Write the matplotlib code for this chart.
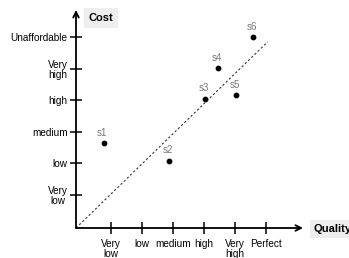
import matplotlib
matplotlib.use("Agg")
import matplotlib.pyplot as plt

plt.rcParams['font.family'] = ['Liberation Sans', 'DejaVu Sans']

names = ["s1", "s2", "s3", "s4", "s5", "s6"]
quality = [0.76, 2.88, 4.03, 4.45, 5.03, 5.58]
cost = [2.64, 2.08, 4.05, 5.02, 4.17, 6.0]
x_ticks = [1, 2, 3, 4, 5, 6]
x_labels = ["Very\nlow", "low", "medium", "high", "Very\nhigh", "Perfect"]
y_ticks = [1, 2, 3, 4, 5, 6]
y_labels = ["Very\nlow", "low", "medium", "high", "Very\nhigh", "Unaffordable"]
trend_x = [-0.13, 6.05]
trend_y = [-0.05, 5.86]

W, H = 349, 258
fig = plt.figure(figsize=(W / 100, H / 100), dpi=100)
x0, x1 = 76, 303
y0, y1 = 228, 10
ax = fig.add_axes([x0 / W, 1 - y0 / H, (x1 - x0) / W, (y0 - y1) / H])
ax.set_xlim(-0.13, 7.19)
ax.set_ylim(-0.05, 6.87)
for s in ax.spines.values():
    s.set_visible(False)
ax.patch.set_alpha(0)

# axes with arrows
ax.annotate("", xy=(1, 0), xytext=(0, 0), xycoords='axes fraction',
            arrowprops=dict(arrowstyle='->', lw=1.3, color='black', shrinkA=0, shrinkB=0))
ax.annotate("", xy=(0, 1), xytext=(0, 0), xycoords='axes fraction',
            arrowprops=dict(arrowstyle='->', lw=1.3, color='black', shrinkA=0, shrinkB=0))

ax.set_xticks(x_ticks)
ax.set_xticklabels(x_labels, fontsize=7.2, linespacing=1.0)
ax.set_yticks(y_ticks)
ax.set_yticklabels(y_labels, fontsize=7.2, linespacing=1.0, multialignment='center')
ax.tick_params(axis='both', direction='inout', length=8, width=1.1, color='black')
ax.tick_params(axis='x', pad=4)
ax.tick_params(axis='y', pad=2)

ax.plot(trend_x, trend_y, linestyle=(0, (2, 2)), color='#333333', lw=0.8)
ax.scatter(quality, cost, s=10, color='black', zorder=3)
for n, qx, cy in zip(names, quality, cost):
    ax.annotate(n, (qx, cy), xytext=(-1, 4), textcoords='offset points',
                ha='center', va='bottom', fontsize=7, color='#777777')

fig.text(101 / W, 1 - 18 / H, "Cost", fontsize=8, fontweight='bold', ha='center', va='center',
         bbox=dict(boxstyle='square,pad=0.45', fc='#eeeeee', ec='none'))
fig.text(314 / W, 1 - 229 / H, "Quality", fontsize=8, fontweight='bold', ha='left', va='center',
         bbox=dict(boxstyle='square,pad=0.35', fc='#eeeeee', ec='none'))

fig.savefig("out.png", dpi=100)
